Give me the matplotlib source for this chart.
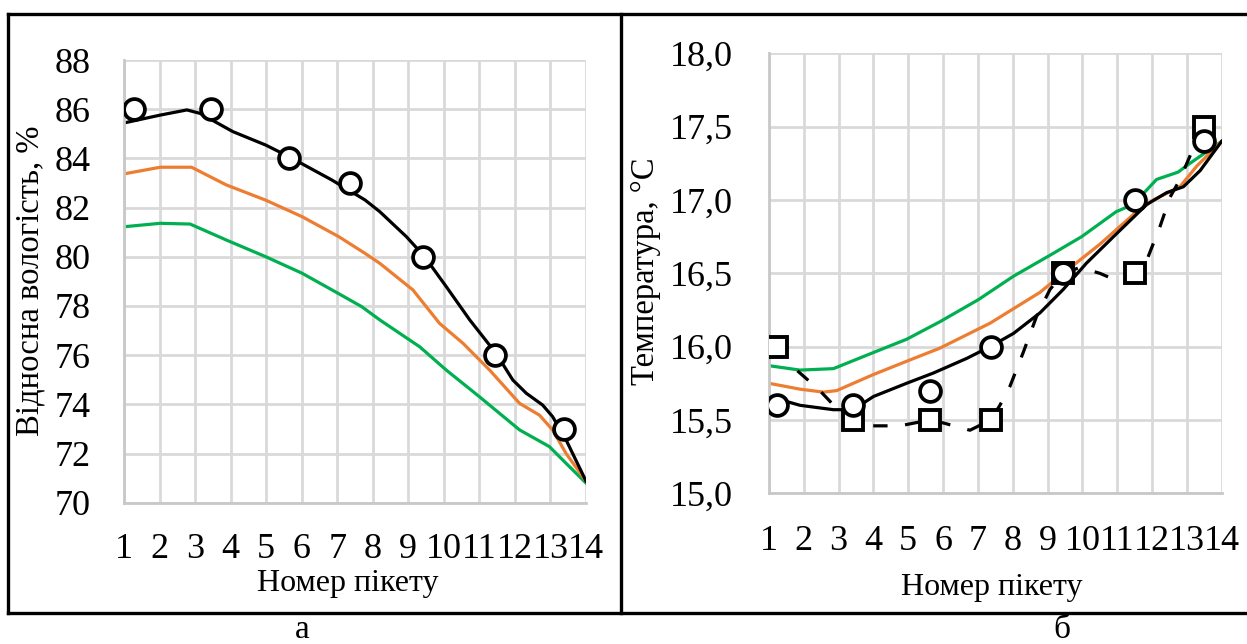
import numpy as np
import matplotlib.pyplot as plt
from matplotlib.lines import Line2D

plt.rcParams['font.family'] = ['Liberation Serif', 'DejaVu Serif']

# ---- panel a: relative humidity ----
hum_x_black = [1.0, 2.02, 2.77, 3.14, 4.06, 4.99, 5.64, 6.85, 7.78, 8.2, 8.95, 9.46,
               10.07, 10.73, 11.47, 11.94, 12.32, 12.78, 13.06, 13.44, 14.0]
hum_black = [85.44, 85.76, 85.97, 85.83, 85.09, 84.54, 84.07, 83.12, 82.31, 81.83, 80.81, 80.0,
             78.78, 77.43, 76.07, 74.99, 74.45, 73.97, 73.5, 72.55, 70.88]
hum_x_orange = [1.0, 2.02, 2.9, 3.88, 4.99, 6.01, 7.04, 7.78, 8.2, 9.13, 9.88, 10.54,
                11.29, 12.13, 12.69, 13.06, 13.44, 14.0]
hum_orange = [83.37, 83.64, 83.64, 82.92, 82.3, 81.63, 80.82, 80.14, 79.73, 78.65, 77.29, 76.48,
              75.39, 74.04, 73.56, 72.96, 72.0, 70.88]
hum_x_green = [1.0, 2.02, 2.86, 3.88, 4.99, 6.01, 7.04, 7.69, 8.2, 9.32, 10.07, 11.0,
               12.13, 12.97, 13.44, 14.0]
hum_green = [81.22, 81.36, 81.33, 80.68, 80.0, 79.33, 78.5, 77.97, 77.43, 76.34, 75.39, 74.31,
             72.96, 72.28, 71.6, 70.8]
hum_meas_x = [1.27, 3.44, 5.64, 7.37, 9.40, 11.44, 13.39]
hum_meas = [86, 86, 84, 83, 80, 76, 73]

# ---- panel b: temperature ----
t_x_green = [1.0, 1.89, 2.85, 4.0, 4.95, 5.91, 7.01, 8.02, 9.12, 9.98, 10.97, 11.46,
             12.13, 12.75, 13.03, 14.0]
t_green = [15.87, 15.84, 15.85, 15.96, 16.05, 16.17, 16.32, 16.48, 16.63, 16.75, 16.92, 16.97,
           17.14, 17.19, 17.24, 17.4]
t_x_orange = [1.0, 1.89, 2.56, 2.94, 4.0, 4.95, 5.91, 7.35, 8.78, 9.45, 10.51, 11.46,
              12.04, 12.8, 13.28, 14.0]
t_orange = [15.75, 15.71, 15.69, 15.70, 15.81, 15.9, 15.99, 16.16, 16.37, 16.5, 16.7, 16.9,
            17.0, 17.09, 17.23, 17.4]
t_x_black = [1.0, 1.89, 2.85, 3.42, 4.0, 4.95, 5.72, 6.68, 7.35, 8.02, 8.78, 9.45, 10.12,
             10.98, 11.85, 12.42, 12.9, 13.38, 14.0]
t_black = [15.66, 15.6, 15.57, 15.57, 15.66, 15.75, 15.82, 15.92, 16.0, 16.09, 16.23, 16.39, 16.57,
           16.77, 16.97, 17.05, 17.09, 17.2, 17.4]
t_x_dash = [1.22, 1.84, 2.42, 2.9, 3.42, 3.96, 4.76, 5.62, 6.0, 6.77, 7.37, 7.63, 7.92, 8.3,
            8.69, 9.07, 9.45, 9.93, 10.5, 10.89, 11.52, 11.85, 12.23, 12.52, 12.8, 13.09,
            13.37, 13.49]
t_dash = [16.0, 15.83, 15.71, 15.59, 15.49, 15.46, 15.46, 15.5, 15.48, 15.43, 15.5, 15.6, 15.73,
          15.96, 16.21, 16.39, 16.5, 16.54, 16.5, 16.46, 16.5, 16.59, 16.82, 17.02, 17.14, 17.3,
          17.46, 17.5]
t_meas_x = [1.22, 3.42, 5.62, 7.37, 9.45, 11.52, 13.49]
t_meas_circ = [15.6, 15.6, 15.7, 16.0, 16.5, 17.0, 17.4]
t_meas_sq = [16.0, 15.5, 15.5, 15.5, 16.5, 16.5, 17.5]

x_ticks = list(range(1, 15))
hum_ticks = list(range(70, 89, 2))
t_ticks = [15.0, 15.5, 16.0, 16.5, 17.0, 17.5, 18.0]

ORANGE = '#ED7D31'
GREEN = '#00B050'
GRID = '#d9d9d9'

W, H = 1247, 644
fig = plt.figure(figsize=(W / 100, H / 100), dpi=100)


def px(x0, y0, x1, y1):
    # pixel box -> figure fraction [left, bottom, width, height]
    return [x0 / W, 1 - y1 / H, (x1 - x0) / W, (y1 - y0) / H]


def style_axes(ax, ylim, yticks, ylabels, xpad, ypad):
    ax.set_xlim(1, 14)
    ax.set_ylim(*ylim)
    ax.set_xticks(x_ticks)
    ax.set_xticklabels([str(v) for v in x_ticks])
    ax.set_yticks(yticks)
    ax.set_yticklabels(ylabels)
    ax.grid(True, color=GRID, lw=2.0)
    ax.set_axisbelow(True)
    for s in ['top', 'right']:
        ax.spines[s].set_visible(False)
    for s in ['left', 'bottom']:
        ax.spines[s].set_color('#c8c8c8')
        ax.spines[s].set_linewidth(2.0)
    ax.tick_params(length=0, labelsize=26, colors='black')
    ax.tick_params(axis='x', pad=xpad)
    ax.tick_params(axis='y', pad=ypad)


mk = dict(marker='o', ms=15, mfc='white', mec='black', mew=2.7, ls='none', zorder=5)

# panel a
ax1 = fig.add_axes(px(124, 60, 586, 502.7))
ax1.plot(hum_x_green, hum_green, color=GREEN, lw=2.3)
ax1.plot(hum_x_orange, hum_orange, color=ORANGE, lw=2.3)
ax1.plot(hum_x_black, hum_black, color='black', lw=2.3)
ax1.plot(hum_meas_x, hum_meas, **mk)
style_axes(ax1, (70, 88), hum_ticks, [str(v) for v in hum_ticks], xpad=22, ypad=24)

# panel b
ax2 = fig.add_axes(px(769, 53.3, 1221.7, 493.3))
ax2.plot(t_x_green, t_green, color=GREEN, lw=2.3)
ax2.plot(t_x_orange, t_orange, color=ORANGE, lw=2.3)
ax2.plot(t_x_black, t_black, color='black', lw=2.3)
ax2.plot(t_x_dash, t_dash, color='black', lw=2.3, ls=(0, (4.5, 5.5)))
ax2.plot(t_meas_x, t_meas_sq, marker='s', ms=14.5, mfc='white', mec='black', mew=2.8,
         ls='none', zorder=5)
ax2.plot(t_meas_x, t_meas_circ, **mk)
style_axes(ax2, (15.0, 18.0), t_ticks, [f'{v:.1f}'.replace('.', ',') for v in t_ticks],
           xpad=23, ypad=26)

# axis titles
fig.text(348 / W, 1 - 583 / H, 'Номер пікету', fontsize=23, ha='center', va='center')
fig.text(992 / W, 1 - 587 / H, 'Номер пікету', fontsize=23, ha='center', va='center')
fig.text(30 / W, 1 - 281 / H, 'Відносна вологість, %', fontsize=23.5, rotation=90,
         ha='center', va='center')
fig.text(646 / W, 1 - 271 / H, 'Температура, °C', fontsize=23.5, rotation=90,
         ha='center', va='center')

# panel letters
fig.text(302 / W, 1 - 630 / H, 'а', fontsize=24, ha='center', va='center')
fig.text(1062 / W, 1 - 630 / H, 'б', fontsize=24, ha='center', va='center')

# frame around both panels
frame = dict(color='black', lw=2.4, transform=fig.transFigure, clip_on=False)
fig.add_artist(Line2D([7.5 / W, 7.5 / W], [1 - 14 / H, 1 - 612.7 / H], **frame))
fig.add_artist(Line2D([7.5 / W, 1.0], [1 - 14 / H, 1 - 14 / H], **frame))
fig.add_artist(Line2D([7.5 / W, 1.0], [1 - 612.7 / H, 1 - 612.7 / H], **frame))
fig.add_artist(Line2D([621 / W, 621 / W], [1 - 14 / H, 1 - 612.7 / H], **frame))

fig.savefig('out.png', dpi=100)
